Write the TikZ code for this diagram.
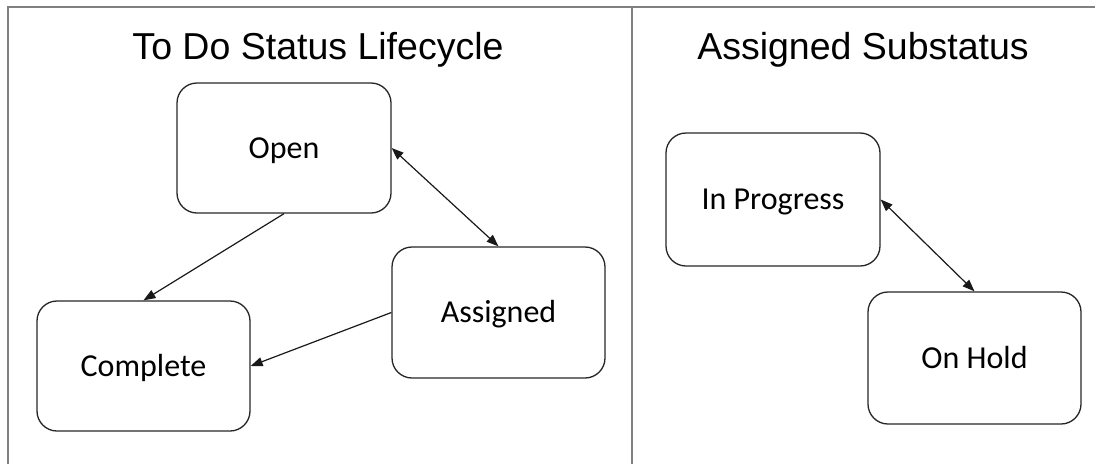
\documentclass[tikz,border=0pt]{standalone}
\usepackage{fontspec}
\setmainfont{Carlito}
\newfontfamily\titlefont{Liberation Sans}
\usetikzlibrary{arrows.meta}
\tikzset{
  statebox/.style={draw=black!85, line width=1.3pt, rounded corners=20pt, rectangle,
    inner sep=0pt, font=\fontsize{32}{36}\selectfont, text height=20.6pt, text depth=0pt},
  frameline/.style={draw=black!50, line width=2pt},
  titletext/.style={font=\titlefont\fontsize{37.5}{42}\selectfont, anchor=base, inner sep=0pt},
  conn/.style={draw=black!90, line width=1.2pt},
  tip/.tip={Triangle[length=12pt,width=9pt]}
}
\begin{document}
\begin{tikzpicture}[x=1pt,y=-1pt]
\useasboundingbox (0,0) rectangle (1095,464);
% frame
\coordinate (tl) at (8,7);
\coordinate (tr) at (1095,7);
\coordinate (bl) at (8,464);
\coordinate (dt) at (632,7);
\coordinate (db) at (632,464);
\draw[frameline] (tr) -- (tl) -- (bl);
\draw[frameline] (dt) -- (db);
% titles
\node[titletext] (t1) at (318,59) {To Do Status Lifecycle};
\node[titletext] (t2) at (863,59) {Assigned Substatus};
% boxes
\node[statebox, minimum width=214pt, minimum height=130pt] (open) at (284,148) {Open};
\node[statebox, minimum width=213pt, minimum height=130pt] (complete) at (143.5,366) {Complete};
\node[statebox, minimum width=213pt, minimum height=131pt] (assigned) at (498.5,312.5) {Assigned};
\node[statebox, minimum width=214pt, minimum height=133pt] (inprog) at (773,199.5) {In Progress};
\node[statebox, minimum width=213pt, minimum height=132pt] (onhold) at (974.5,358) {On Hold};
% connectors
\draw[conn, -tip] (open.south) -- (complete.north);
\draw[conn, -tip] (assigned.west) -- (complete.east);
\draw[conn, tip-tip] (open.east) -- (assigned.north);
\draw[conn, tip-tip] (inprog.east) -- (onhold.north);
\end{tikzpicture}
\end{document}
